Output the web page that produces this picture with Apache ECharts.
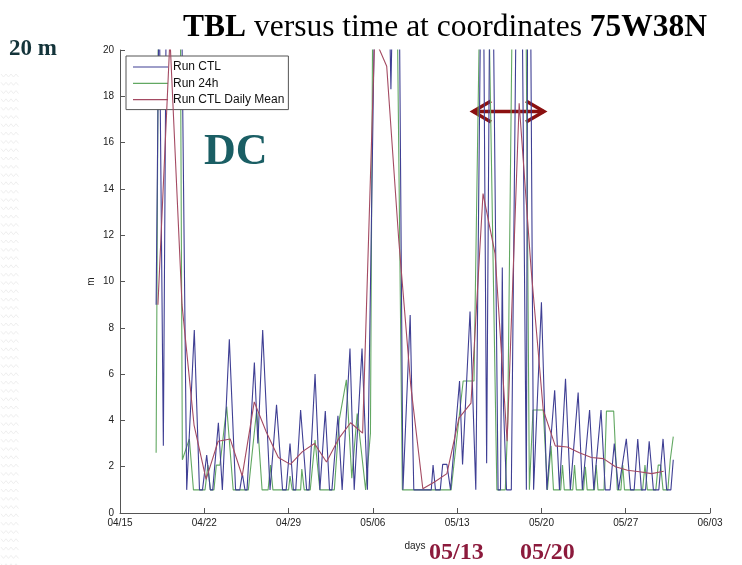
<!DOCTYPE html>
<html>
<head>
<meta charset="utf-8">
<script src="https://cdn.jsdelivr.net/npm/echarts@6/dist/echarts.min.js"></script>
<style>
  html, body { margin: 0; padding: 0; background: #fff; }
  #chart { width: 742px; height: 565px; }
</style>
</head>
<body>
<div id="chart"></div>
<script>
// Day offsets are counted from 04/15 00:00; one tick per week.
const tickLabels = ['04/15', '04/22', '04/29', '05/06', '05/13', '05/20', '05/27', '06/03'];

// Run CTL boundary-layer height (m), [day, value]
const ctlPoints = [
  [3.0, 9.0], [3.25, 23], [3.6, 2.9], [3.85, 23], [4.5, 25], [5.1, 23], [5.54, 1.0],
  [6.17, 7.9], [6.6, 1], [6.85, 1], [7.2, 2.5], [7.5, 1], [7.7, 1], [8.17, 3.9], [8.5, 1], [8.6, 1],
  [9.08, 7.5], [9.6, 1], [9.95, 1], [10.16, 1.7], [10.38, 1], [10.55, 1], [11.16, 6.5], [11.45, 3.0],
  [11.85, 7.9], [12.04, 5.7], [12.46, 1], [12.6, 1], [13.0, 4.67], [13.5, 1], [13.8, 1], [14.12, 3.0],
  [14.4, 1], [14.6, 1], [15.0, 4.45], [15.5, 1], [15.7, 1], [16.2, 6.0], [16.6, 1], [16.75, 1],
  [17.05, 4.4], [17.4, 1], [17.6, 1], [18.1, 4.2], [18.45, 1], [18.6, 1], [19.1, 7.1], [19.45, 1],
  [19.6, 1], [20.1, 7.1], [20.55, 1],
  [21.15, 22], [22.3, 24], [22.5, 18.3], [22.7, 24], [23.2, 22], [23.5, 1], [24.1, 8.55], [24.4, 1],
  [25.85, 1], [26.0, 2.07], [26.2, 1], [26.6, 1], [26.8, 2.1], [27.15, 2.1], [27.45, 1], [27.55, 1],
  [28.2, 5.7], [28.45, 2.1], [29.07, 8.7], [29.55, 1],
  [29.95, 22], [30.2, 22], [30.45, 2.15], [30.7, 22], [31.0, 22], [31.4, 1], [31.6, 1], [31.75, 10.6],
  [31.85, 4.6], [32.1, 1], [32.5, 1], [32.9, 22], [33.4, 22], [33.75, 1], [33.85, 22], [34.1, 22],
  [34.35, 1], [35.0, 9.1], [35.45, 1], [36.1, 5.3], [36.5, 1], [37.0, 5.8], [37.4, 1], [38.05, 5.2],
  [38.4, 1], [39.0, 4.45], [39.35, 1], [39.95, 4.45], [40.3, 1], [40.7, 1], [41.05, 3.0], [41.4, 1],
  [42.05, 3.2], [42.4, 1], [42.7, 1], [43.0, 3.2], [43.3, 1], [43.65, 1], [43.95, 3.1], [44.3, 1],
  [44.75, 1], [45.1, 3.2], [45.4, 1], [45.75, 1], [45.95, 2.3]
];

// Run 24h boundary-layer height (m), [day, value]
const run24Points = [
  [3.0, 2.6], [3.2, 23], [5.0, 23], [5.18, 2.3], [5.76, 3.2], [6.1, 1], [7.06, 1], [7.3, 2.07],
  [7.5, 1], [7.8, 1], [8.0, 2.07], [8.3, 2.07], [8.86, 4.6], [9.4, 1], [10.66, 1], [11.35, 4.45],
  [11.8, 1], [12.3, 1], [12.5, 2.07], [12.7, 1], [14.0, 1], [14.12, 1.6], [14.3, 1], [15.0, 1],
  [15.1, 1.9], [15.3, 1], [15.8, 1], [16.2, 3.15], [16.6, 1], [17.8, 1], [18.2, 4.0], [18.8, 5.75],
  [19.25, 1.5], [19.7, 4.3], [20.4, 1], [20.8, 3.45], [21.0, 23], [23.0, 23], [23.45, 1], [27.5, 1],
  [28.2, 4.3], [28.5, 5.7], [29.4, 5.7], [29.9, 23], [30.6, 23], [31.3, 1], [32.0, 1], [32.2, 3.9],
  [32.6, 23], [33.7, 23], [34.0, 1], [34.3, 4.45], [35.15, 4.45], [35.5, 1], [35.8, 2.9], [36.0, 1],
  [36.6, 1], [36.75, 2.07], [36.9, 1], [37.6, 1], [37.75, 2.07], [37.9, 1], [38.5, 1], [38.65, 2.0],
  [38.8, 1], [39.4, 1], [39.55, 2.07], [39.7, 1], [40.2, 1], [40.4, 4.4], [41.0, 4.4], [41.3, 1],
  [41.6, 1], [41.75, 2.07], [41.9, 1], [43.4, 1], [43.6, 2.07], [43.8, 1], [44.5, 1], [44.7, 2.07],
  [44.9, 2.07], [45.1, 1], [45.5, 1], [45.7, 2.3], [45.95, 3.3]
];

// Run CTL daily mean (m), [day, value]
const meanPoints = [
  [3.15, 9.0], [4.15, 20.5], [5.15, 9.0], [6.15, 3.8], [7.15, 1.45], [8.15, 3.1], [9.15, 3.2],
  [10.15, 1.6], [11.15, 4.8], [12.15, 3.5], [13.15, 2.4], [14.15, 2.1], [15.15, 2.65], [16.15, 3.0],
  [17.15, 2.2], [18.15, 3.2], [19.15, 3.9], [20.15, 3.45], [21.15, 20.5], [22.15, 19.3],
  [23.15, 11.8], [24.15, 5.5], [25.15, 1.05], [26.15, 1.35], [27.15, 1.7], [28.15, 4.1],
  [29.15, 4.75], [30.15, 13.8], [31.15, 11.2], [32.15, 3.1], [33.15, 17.7], [34.15, 10.5],
  [35.15, 4.45], [36.15, 2.9], [37.15, 2.85], [38.15, 2.6], [39.15, 2.4], [40.15, 2.35],
  [41.15, 2.0], [42.15, 1.85], [43.15, 1.78], [44.15, 1.7], [45.15, 1.8]
];

const chart = echarts.init(document.getElementById('chart'), null, { renderer: 'canvas' });

// faint zigzag texture down the left margin
const zigzags = [];
for (let y = 74; y < 565; y += 8.3) {
  const pts = [];
  for (let x = 1, k = 0; x <= 20; x += 2.5, k++) pts.push([x, y + (k % 2 ? 3 : 0)]);
  zigzags.push({ type: 'polyline', shape: { points: pts }, style: { stroke: '#efefef', lineWidth: 1, fill: null }, silent: true });
}

const arrowColor = '#8b1010';

const option = {
  backgroundColor: '#fff',
  animation: false,
  title: {
    text: '{b|TBL} versus time at coordinates {b|75W38N}',
    left: 178,
    top: 7,
    textStyle: {
      fontFamily: 'Liberation Serif',
      fontSize: 31.5,
      fontWeight: 'normal',
      color: '#000',
      rich: {
        b: { fontFamily: 'Liberation Serif', fontSize: 31.5, fontWeight: 'bold', color: '#000' }
      }
    }
  },
  legend: {
    orient: 'vertical',
    left: 126,
    top: 56,
    data: ['Run CTL', 'Run 24h', 'Run CTL Daily Mean'],
    icon: 'rect',
    itemWidth: 35,
    itemHeight: 1.2,
    itemGap: 2.3,
    padding: [4, 4, 3, 7],
    borderColor: '#555',
    borderWidth: 1,
    borderRadius: 0,
    backgroundColor: '#fff',
    textStyle: { fontFamily: 'Liberation Sans', fontSize: 12, color: '#111', lineHeight: 14 }
  },
  grid: { left: 120, right: 32, top: 50, bottom: 52, containLabel: false },
  xAxis: {
    type: 'value',
    min: 0,
    max: 49,
    interval: 7,
    name: 'days',
    nameLocation: 'middle',
    nameGap: 28,
    nameMoveOverlap: false,
    nameTextStyle: { fontFamily: 'Liberation Sans', fontSize: 10, color: '#222' },
    axisLine: { show: true, lineStyle: { color: '#555', width: 1 } },
    axisTick: { show: true, inside: true, length: 5, lineStyle: { color: '#555' } },
    axisLabel: {
      fontFamily: 'Liberation Sans', fontSize: 10, color: '#222', margin: 5,
      formatter: v => tickLabels[Math.round(v / 7)]
    },
    splitLine: { show: false }
  },
  yAxis: {
    type: 'value',
    min: 0,
    max: 20,
    interval: 2,
    name: 'm',
    nameLocation: 'middle',
    nameGap: 24,
    nameMoveOverlap: false,
    nameRotate: 90,
    nameTextStyle: { fontFamily: 'Liberation Sans', fontSize: 10, color: '#222' },
    axisLine: { show: true, lineStyle: { color: '#555', width: 1 } },
    axisTick: { show: true, inside: true, length: 5, lineStyle: { color: '#555' } },
    axisLabel: { fontFamily: 'Liberation Sans', fontSize: 10, color: '#222', margin: 6 },
    splitLine: { show: false }
  },
  series: [
    {
      name: 'Run CTL', type: 'line', data: ctlPoints, symbol: 'none', clip: true,
      lineStyle: { color: '#3f3f94', width: 1.1 }, itemStyle: { color: '#3f3f94' }, z: 3
    },
    {
      name: 'Run 24h', type: 'line', data: run24Points, symbol: 'none', clip: true,
      lineStyle: { color: '#62a862', width: 1.1 }, itemStyle: { color: '#62a862' }, z: 2
    },
    {
      name: 'Run CTL Daily Mean', type: 'line', data: meanPoints, symbol: 'none', clip: true,
      lineStyle: { color: '#a44a62', width: 1.1 }, itemStyle: { color: '#a44a62' }, z: 4
    }
  ],
  graphic: [
    ...zigzags,
    {
      type: 'text', left: 9, top: 38, silent: true,
      style: { text: '20 m', font: 'bold 23px "Liberation Serif"', fill: '#14343a' }
    },
    {
      type: 'text', left: 204, top: 131, silent: true,
      style: { text: 'DC', font: 'bold 44px "Liberation Serif"', fill: '#1a5e64' }
    },
    {
      type: 'text', left: 429, top: 541, silent: true,
      style: { text: '05/13', font: 'bold 24px "Liberation Serif"', fill: '#8c1a3c' }
    },
    {
      type: 'text', left: 520, top: 541, silent: true,
      style: { text: '05/20', font: 'bold 24px "Liberation Serif"', fill: '#8c1a3c' }
    },
    {
      type: 'group', silent: true,
      children: [
        { type: 'line', shape: { x1: 473, y1: 111.5, x2: 544, y2: 111.5 }, style: { stroke: arrowColor, lineWidth: 3.5 } },
        { type: 'polyline', shape: { points: [[491, 101], [473, 111.5], [491, 122]] }, style: { stroke: arrowColor, lineWidth: 3.5, fill: null } },
        { type: 'polyline', shape: { points: [[526, 101], [544, 111.5], [526, 122]] }, style: { stroke: arrowColor, lineWidth: 3.5, fill: null } }
      ]
    }
  ]
};

chart.setOption(option);
</script>
</body>
</html>
